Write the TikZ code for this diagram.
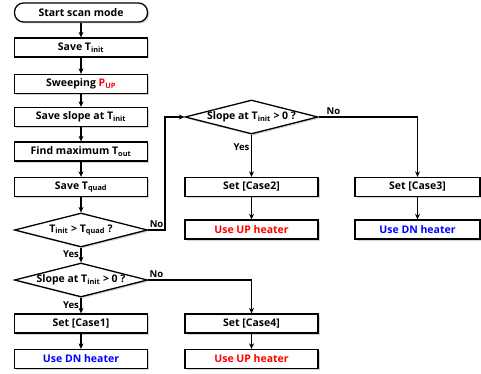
\documentclass[tikz,border=0pt]{standalone}
\usepackage{fontspec}
\setmainfont{Open Sans}
\usetikzlibrary{shapes.geometric,shadows,arrows.meta}
\newcommand{\zb}[1]{\makebox[0pt]{#1}}
\begin{document}
\begin{tikzpicture}[x=1pt,y=-1pt,
  font=\bfseries\fontsize{10.5}{12}\selectfont,
  shd/.style={drop shadow={shadow xshift=1.5pt,shadow yshift=-1.5pt,opacity=0.35,fill=gray}},
  box/.style={draw,line width=1.3pt,fill=white,minimum width=133pt,minimum height=19pt,inner sep=0pt,shd},
  dia/.style={draw,line width=1.3pt,fill=white,diamond,aspect=3.9,minimum width=133pt,minimum height=34pt,inner sep=0pt,shd},
  arr/.style={line width=1.3pt,-{Stealth[length=5.5pt,width=5pt]}},
  lab/.style={font=\bfseries\fontsize{9.5}{11}\selectfont,inner sep=1.5pt}]
\useasboundingbox (0,0) rectangle (481,374);
\node[box,rounded corners=9pt] (start) at (81,12.5) {Start scan mode};
\node[box] (savet) at (81,47.5) {Save T\textsubscript{init}};
\node[box] (sweep) at (81,84) {Sweeping \textcolor{red}{P\textsubscript{UP}}};
\node[box] (slope) at (81,117) {Save slope at T\textsubscript{init}};
\node[box] (find) at (81,151.5) {Find maximum T\textsubscript{out}};
\node[box] (tquad) at (81,187) {Save T\textsubscript{quad}};
\node[dia] (d1) at (81,230) {\zb{T\textsubscript{init} > T\textsubscript{quad} ?}};
\node[dia] (d2) at (81,280) {\zb{Slope at T\textsubscript{init} > 0 ?}};
\node[box] (c1) at (81,323.5) {Set [Case1]};
\node[box,text=blue] (u1) at (81,359) {Use DN heater};
\node[dia] (d3) at (251.5,117) {\zb{Slope at T\textsubscript{init} > 0 ?}};
\node[box] (c2) at (251.5,187) {Set [Case2]};
\node[box,text=red] (u2) at (251.5,229.5) {Use UP heater};
\node[box,minimum width=125pt] (c3) at (417.5,187) {Set [Case3]};
\node[box,minimum width=125pt,text=blue] (u3) at (417.5,229.5) {Use DN heater};
\node[box] (c4) at (251.5,323.5) {Set [Case4]};
\node[box,text=red] (u4) at (251.5,359) {Use UP heater};
\coordinate (k1) at (165,230);
\coordinate (k2) at (165,117);
\draw[arr] (start) -- (savet);
\draw[arr] (savet) -- (sweep);
\draw[arr] (sweep) -- (slope);
\draw[arr] (slope) -- (find);
\draw[arr] (find) -- (tquad);
\draw[arr] (tquad) -- (d1);
\draw[arr] (d1) -- node[lab,left,pos=0.45] {Yes} (d2);
\draw[arr] (d2) -- node[lab,left,pos=0.45] {Yes} (c1);
\draw[arr] (c1) -- (u1);
\draw[arr] (d1.east) -- node[lab,above,pos=0.5] {No} (k1) -- (k2) -- (d3.west);
\draw[arr] (d3.south) -- node[lab,left,pos=0.3] {Yes} (c2);
\draw[arr] (c2) -- (u2);
\draw[arr] (d3.east) -- node[lab,above,pos=0.15] {No} (d3.east -| c3.north) -- (c3.north);
\draw[arr] (c3) -- (u3);
\draw[arr] (d2.east) -- node[lab,above,pos=0.08] {No} (d2.east -| c4.north) -- (c4.north);
\draw[arr] (c4) -- (u4);
\end{tikzpicture}
\end{document}
